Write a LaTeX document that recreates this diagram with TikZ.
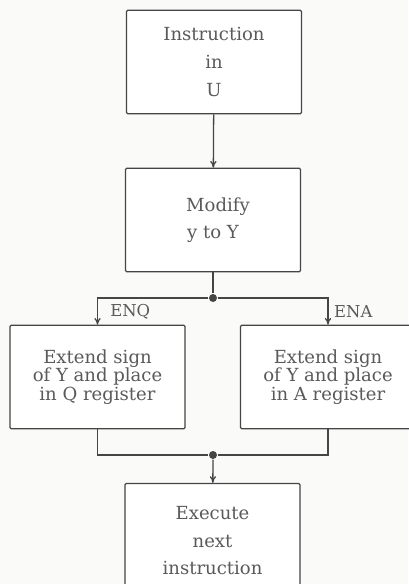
\documentclass[tikz,border=0pt]{standalone}
\usepackage{fontspec}
\setmainfont{DejaVu Serif}
\usepackage{tikz}
\usetikzlibrary{positioning,calc,arrows.meta}

\definecolor{inkline}{HTML}{454545}
\definecolor{inktext}{HTML}{5A5A5A}
\definecolor{paper}{HTML}{FAFAF8}

\begin{document}
\begin{tikzpicture}[
      x=0.03cm, y=-0.03cm,
      >={To[length=2mm, width=1.9mm]},
      line width=1.1pt, draw=inkline,
      block/.style={rectangle, draw=inkline, rounded corners=1pt, line width=1.1pt, text=inktext,
                    font=\fontsize{15.4}{23.5}\selectfont, minimum width=5.25cm, minimum height=3.1cm, align=center, fill=white},
      sidebox/.style={block, font=\fontsize{15.4}{16}\selectfont},
      joint/.style={circle, fill=inkline, inner sep=0pt, minimum size=0.24cm},
      tag/.style={right, text=inktext, font=\fontsize{14}{15}\selectfont}
    ]
    \fill[paper] (0,0) rectangle (408,584);
    \useasboundingbox (0,0) rectangle (408,584);
    \node[block] (instr) at (214,62) {Instruction\\ in\\ U};
    \node[block] (modify) at (213,220) {\hspace*{0.3cm}Modify\\ y to Y};
    \node[joint] (split) at (213,298) {};
    \node[sidebox] (enq) at (97.5,377) {Extend sign\\ of Y and place\\ in Q register};
    \node[sidebox] (ena) at (328,377) {Extend sign\\ of Y and place\\ in A register};
    \node[joint] (merge) at (213,455) {};
    \node[block, minimum height=3.45cm] (exec) at (212.5,541) {Execute\\ next\\ instruction};
    \draw[->] (instr) -- (modify);
    \draw (modify) -- (split);
    \draw[->] (split) -| node[tag, pos=0.75, xshift=0.25cm]{ENQ} (enq);
    \draw[->] (split) -| node[tag, pos=0.75, xshift=0.05cm]{ENA} (ena);
    \draw (enq) |- (merge) -| (ena);
    \draw[->] (merge) -- (exec);
  \end{tikzpicture}
\end{document}
